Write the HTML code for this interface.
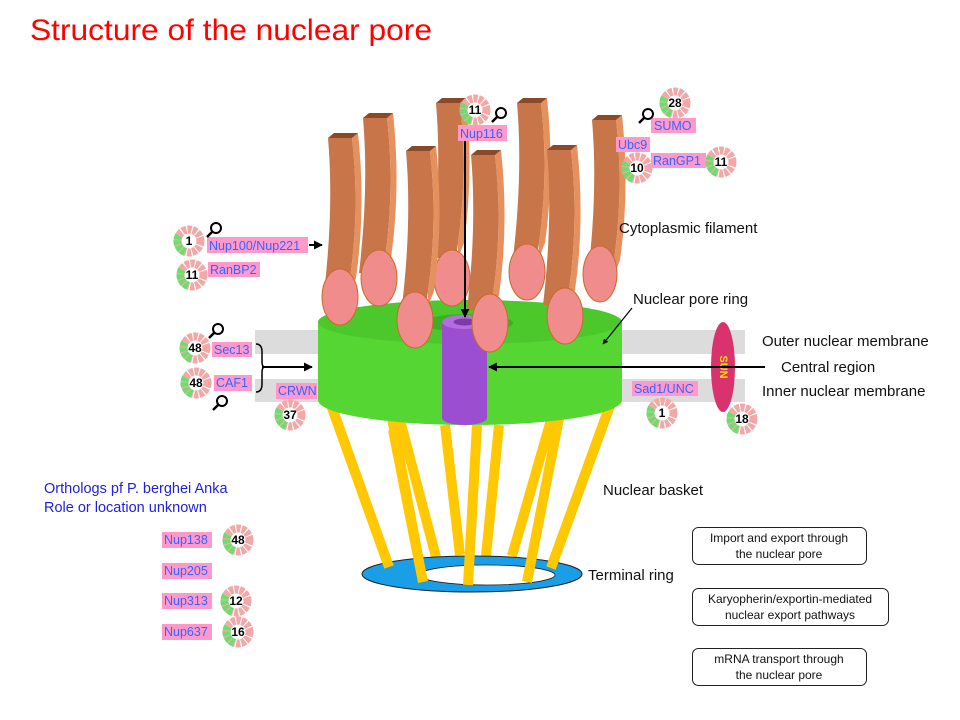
<!DOCTYPE html>
<html><head><meta charset="utf-8"><style>
html,body{margin:0;padding:0;background:#fff;}
svg{display:block;font-family:"Liberation Sans",Arial,sans-serif;}
.lb{fill:#3366ff;font-size:12.5px;}
.bx{fill:#ff99cc;}
.bk{fill:#111;font-size:15px;}
.num{font-size:12px;font-weight:bold;fill:#000;text-anchor:middle;}
.sm{font-size:12px;fill:#111;text-anchor:middle;}
</style></head><body>
<svg width="960" height="720" viewBox="0 0 960 720" xmlns="http://www.w3.org/2000/svg">
<defs>
<marker id="ah" viewBox="0 0 10 10" refX="9" refY="5" markerWidth="4.5" markerHeight="4.5" orient="auto"><path d="M0,0 L10,5 L0,10 z" fill="#000"/></marker>
<g id="fil">
  <path d="M0,0 L24,0 Q32,70 22,140 L20,155 L-4,155 Q6,70 0,0 Z" fill="#c8754a"/>
  <path d="M24,0 L30,-5 Q38,70 28,140 L22,155 L22,140 Q32,70 24,0 Z" fill="#e4905f"/>
  <path d="M0,0 L6,-5 L30,-5 L24,0 Z" fill="#8a4a2a"/>
</g>
<g id="don">
  <circle r="11" fill="none" stroke="#f3a8a8" stroke-width="9" stroke-dasharray="4 1"/>
  <circle r="11" fill="none" stroke="#6fdc6f" stroke-width="9" stroke-dasharray="4 1 4 1 4 1 4 1 0 80" transform="rotate(110)"/>
  <circle r="7.5" fill="#fff"/>
</g>
<g id="mag"><circle cx="4" cy="-4" r="5" fill="#fff" stroke="#000" stroke-width="2"/><line x1="0.5" y1="-0.5" x2="-5" y2="5" stroke="#000" stroke-width="2.5"/></g>
</defs>

<text x="30" y="40" font-size="30" fill="#ff0000" textLength="402" lengthAdjust="spacingAndGlyphs">Structure of the nuclear pore</text>

<rect x="255" y="330" width="490" height="24" fill="#dcdcdc"/>
<rect x="255" y="379" width="490" height="23" fill="#dcdcdc"/>

<g stroke="#ffc800" stroke-width="10">
<line x1="330" y1="402" x2="389" y2="567"/>
<line x1="391" y1="413" x2="423" y2="582"/>
<line x1="400" y1="420" x2="436" y2="557"/>
<line x1="445" y1="425" x2="460" y2="555"/>
<line x1="499" y1="425" x2="486" y2="556"/>
<line x1="553" y1="413" x2="512" y2="556"/>
<line x1="612" y1="400" x2="551" y2="568"/>
</g>
<ellipse cx="472" cy="574" rx="110" ry="18" fill="#1a9ee8" stroke="#222" stroke-width="1"/>
<ellipse cx="487" cy="575" rx="68" ry="10" fill="#fff" stroke="#222" stroke-width="0.8"/>
<g stroke="#ffc800" stroke-width="10">
<line x1="393" y1="430" x2="423" y2="582"/>
<line x1="477" y1="425" x2="468" y2="585"/>
<line x1="560" y1="413" x2="527" y2="582"/>
<line x1="612" y1="400" x2="551" y2="568"/>
<line x1="330" y1="402" x2="389" y2="567"/>
</g>

<path d="M318,322 L318,400 A152,25 0 0 0 622,400 L622,322 Z" fill="#55d633"/>
<ellipse cx="470" cy="322" rx="152" ry="22" fill="#4cc82c"/>
<ellipse cx="468" cy="323" rx="45" ry="9" fill="#3fae22"/>

<use href="#fil" x="363" y="118"/>
<ellipse cx="379" cy="278" rx="18" ry="28" fill="#f08c8c" stroke="#c86a2a" stroke-width="1"/>
<use href="#fil" x="436" y="103"/>
<ellipse cx="452" cy="278" rx="18" ry="28" fill="#f08c8c" stroke="#c86a2a" stroke-width="1"/>
<use href="#fil" x="517" y="103"/>
<ellipse cx="527" cy="272" rx="18" ry="28" fill="#f08c8c" stroke="#c86a2a" stroke-width="1"/>
<use href="#fil" x="592" y="120"/>
<ellipse cx="600" cy="274" rx="17" ry="28" fill="#f08c8c" stroke="#c86a2a" stroke-width="1"/>

<path d="M442,322 L442,418 A22.5,7 0 0 0 487,418 L487,322 Z" fill="#9b4fd0"/>
<ellipse cx="464.5" cy="322" rx="22.5" ry="7" fill="#b56ee0"/>
<ellipse cx="464.5" cy="322" rx="11" ry="3.5" fill="#7d3aa8"/>

<use href="#fil" x="328" y="138"/>
<ellipse cx="340" cy="297" rx="18" ry="28" fill="#f08c8c" stroke="#c86a2a" stroke-width="1"/>
<use href="#fil" x="406" y="151"/>
<ellipse cx="415" cy="320" rx="18" ry="28" fill="#f08c8c" stroke="#c86a2a" stroke-width="1"/>
<use href="#fil" x="471" y="155"/>
<ellipse cx="490" cy="323" rx="18" ry="29" fill="#f08c8c" stroke="#c86a2a" stroke-width="1"/>
<use href="#fil" x="547" y="150"/>
<ellipse cx="565" cy="316" rx="18" ry="28" fill="#f08c8c" stroke="#c86a2a" stroke-width="1"/>

<ellipse cx="723" cy="367" rx="12" ry="45" fill="#d8336e"/>
<text x="723" y="367" transform="rotate(90 723 367)" font-size="11" font-weight="bold" fill="#ffe000" text-anchor="middle" dominant-baseline="middle">SUN</text>

<g stroke="#000" stroke-width="2" fill="none">
<line x1="465" y1="140" x2="465" y2="317" marker-end="url(#ah)"/>
<line x1="765" y1="367" x2="489" y2="367" marker-end="url(#ah)"/>
<line x1="309" y1="245" x2="322" y2="245" marker-end="url(#ah)"/>
<line x1="262" y1="367" x2="312" y2="367" marker-end="url(#ah)"/>
<line x1="632" y1="308" x2="603" y2="344" stroke-width="1.2" marker-end="url(#ah)"/>
<path d="M256,344 Q262,344 262,352 L262,362 Q262,367 265,367 Q262,367 262,372 L262,384 Q262,392 256,392" stroke-width="1.5"/>
</g>

<g>
<rect class="bx" x="458" y="125" width="49" height="16"/><text class="lb" x="460" y="138">Nup116</text>
<rect class="bx" x="651" y="118" width="45" height="15"/><text class="lb" x="654" y="130">SUMO</text>
<rect class="bx" x="616" y="137" width="34" height="15"/><text class="lb" x="618" y="149">Ubc9</text>
<rect class="bx" x="651" y="153" width="55" height="15"/><text class="lb" x="653" y="165">RanGP1</text>
<rect class="bx" x="207" y="237" width="101" height="16"/><text class="lb" x="209" y="250">Nup100/Nup221</text>
<rect class="bx" x="208" y="262" width="52" height="15"/><text class="lb" x="210" y="274">RanBP2</text>
<rect class="bx" x="212" y="342" width="40" height="15"/><text class="lb" x="214" y="354">Sec13</text>
<rect class="bx" x="214" y="375" width="38" height="16"/><text class="lb" x="216" y="387">CAF1</text>
<rect class="bx" x="276" y="383" width="41" height="16"/><text class="lb" x="278" y="395">CRWN</text>
<rect class="bx" x="632" y="381" width="66" height="15"/><text class="lb" x="634" y="393">Sad1/UNC</text>
<rect class="bx" x="162" y="532" width="50" height="16"/><text class="lb" x="164" y="544">Nup138</text>
<rect class="bx" x="162" y="563" width="50" height="16"/><text class="lb" x="164" y="575">Nup205</text>
<rect class="bx" x="162" y="593" width="50" height="16"/><text class="lb" x="164" y="605">Nup313</text>
<rect class="bx" x="162" y="624" width="50" height="16"/><text class="lb" x="164" y="636">Nup637</text>
</g>

<g>
<use href="#don" x="475" y="110"/><text class="num" x="475" y="114">11</text>
<use href="#don" x="675" y="103"/><text class="num" x="675" y="107">28</text>
<use href="#don" x="637" y="168"/><text class="num" x="637" y="172">10</text>
<use href="#don" x="721" y="162"/><text class="num" x="721" y="166">11</text>
<use href="#don" x="189" y="241"/><text class="num" x="189" y="245">1</text>
<use href="#don" x="192" y="275"/><text class="num" x="192" y="279">11</text>
<use href="#don" x="195" y="348"/><text class="num" x="195" y="352">48</text>
<use href="#don" x="196" y="383"/><text class="num" x="196" y="387">48</text>
<use href="#don" x="290" y="415"/><text class="num" x="290" y="419">37</text>
<use href="#don" x="662" y="413"/><text class="num" x="662" y="417">1</text>
<use href="#don" x="742" y="419"/><text class="num" x="742" y="423">18</text>
<use href="#don" x="238" y="540"/><text class="num" x="238" y="544">48</text>
<use href="#don" x="236" y="601"/><text class="num" x="236" y="605">12</text>
<use href="#don" x="238" y="632"/><text class="num" x="238" y="636">16</text>
</g>

<use href="#mag" x="497" y="117"/>
<use href="#mag" x="644" y="118"/>
<use href="#mag" x="212" y="232"/>
<use href="#mag" x="214" y="333"/>
<use href="#mag" x="218" y="405"/>

<text class="bk" x="619" y="233">Cytoplasmic filament</text>
<text class="bk" x="633" y="304">Nuclear pore ring</text>
<text class="bk" x="762" y="346">Outer nuclear membrane</text>
<text class="bk" x="781" y="372">Central region</text>
<text class="bk" x="762" y="396">Inner nuclear membrane</text>
<text class="bk" x="603" y="495">Nuclear basket</text>
<text class="bk" x="588" y="580">Terminal ring</text>

<text x="44" y="493" font-size="14.5" fill="#1f1fe0">Orthologs pf P. berghei Anka</text>
<text x="44" y="512" font-size="14.5" fill="#1f1fe0">Role or location unknown</text>

<g fill="#fff" stroke="#222" stroke-width="1">
<rect x="692.5" y="527.5" width="174" height="37" rx="6"/>
<rect x="692.5" y="588.5" width="196" height="37" rx="6"/>
<rect x="692.5" y="648.5" width="174" height="37" rx="6"/>
</g>
<text class="sm" x="779" y="542">Import and export through</text>
<text class="sm" x="779" y="558">the nuclear pore</text>
<text class="sm" x="790" y="603">Karyopherin/exportin-mediated</text>
<text class="sm" x="790" y="619">nuclear export pathways</text>
<text class="sm" x="779" y="663">mRNA transport through</text>
<text class="sm" x="779" y="679">the nuclear pore</text>
</svg>
</body></html>
